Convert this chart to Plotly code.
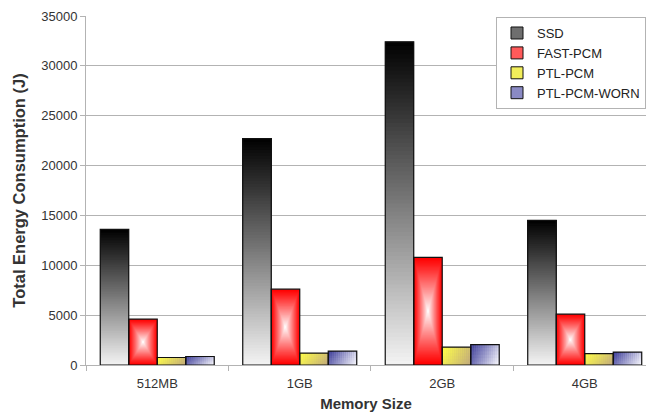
import plotly.graph_objects as go

# ---- data ----
categories = ["512MB", "1GB", "2GB", "4GB"]
ssd = [13600, 22700, 32400, 14500]
fast_pcm = [4600, 7600, 10800, 5100]
ptl_pcm = [750, 1200, 1800, 1150]
ptl_pcm_worn = [850, 1400, 2050, 1300]
series_names = ["SSD", "FAST-PCM", "PTL-PCM", "PTL-PCM-WORN"]

BAR_W = 0.2
OFFSETS = [-0.4, -0.2, 0.0, 0.2]
FONT = "Liberation Sans, Arial, sans-serif"


def hex_rgb(h):
    h = h.lstrip("#")
    return tuple(int(h[i:i + 2], 16) for i in (0, 2, 4))


def mix(c1, c2, t):
    a, b = hex_rgb(c1), hex_rgb(c2)
    r = [round(a[k] + (b[k] - a[k]) * t) for k in range(3)]
    return "rgb(%d,%d,%d)" % tuple(r)


def grid_gradient(values, off, nx, ny, color_fn):
    """Fill each bar with a grid of overlapping cells; later cells cover
    the upper-right part so every cell shows only its own colour."""
    xs, bases, ys, offs, widths, cols = [], [], [], [], [], []
    for cat, v in zip(categories, values):
        for i in range(nx):
            for j in range(ny):
                u = (i + 0.5) / nx
                h = (j + 0.5) / ny
                b = v * j / ny
                xs.append(cat)
                bases.append(b)
                ys.append(v - b)
                offs.append(off + BAR_W * i / nx)
                widths.append(BAR_W * (1 - i / nx))
                cols.append(color_fn(u, h))
    return go.Bar(x=xs, y=ys, base=bases, offset=offs, width=widths,
                  marker=dict(color=cols, line=dict(width=0)),
                  showlegend=False, hoverinfo="skip")


def rect_gradient(values, off, steps, outer, inner, gamma):
    """Concentric rectangles shading from the edge colour to the centre."""
    xs, bases, ys, offs, widths, cols = [], [], [], [], [], []
    for cat, v in zip(categories, values):
        for k in range(steps):
            t = k / steps
            xs.append(cat)
            bases.append(v / 2 * t)
            ys.append(v * (1 - t))
            offs.append(off + BAR_W / 2 * t)
            widths.append(BAR_W * (1 - t))
            cols.append(mix(outer, inner, t ** gamma))
    return go.Bar(x=xs, y=ys, base=bases, offset=offs, width=widths,
                  marker=dict(color=cols, line=dict(width=0)),
                  showlegend=False, hoverinfo="skip")


def diag(u, h):
    return min(1.0, max(0.0, 0.8 * u + 0.3 * (1 - h) - 0.05))


fig = go.Figure()

# SSD: black at the top fading to near white at the base
fig.add_trace(grid_gradient(ssd, OFFSETS[0], 1, 80,
                            lambda u, h: mix("#f4f4f4", "#000000", h)))
# FAST-PCM: red with a white centre
fig.add_trace(rect_gradient(fast_pcm, OFFSETS[1], 50, "#ff0000", "#ffffff", 1.1))
# PTL-PCM: yellow to khaki, mostly left to right
fig.add_trace(grid_gradient(ptl_pcm, OFFSETS[2], 14, 6,
                            lambda u, h: mix("#ffff4a", "#c4ad7a", diag(u, h))))
# PTL-PCM-WORN: slate blue to pale lavender, mostly left to right
fig.add_trace(grid_gradient(ptl_pcm_worn, OFFSETS[3], 14, 6,
                            lambda u, h: mix("#40409a", "#f2f2fa", diag(u, h))))

# bar outlines
for vals, off in zip([ssd, fast_pcm, ptl_pcm, ptl_pcm_worn], OFFSETS):
    fig.add_trace(go.Bar(x=categories, y=vals, offset=off, width=BAR_W,
                         marker=dict(color="rgba(0,0,0,0)",
                                     line=dict(color="#111111", width=1.2)),
                         showlegend=False, hoverinfo="skip"))

# legend entries
legend_colors = ["#6e6e6e", "#ff5a5a", "#f2ee5a", "#8a8ac4"]
for name, col in zip(series_names, legend_colors):
    fig.add_trace(go.Bar(x=[categories[0]], y=[None], name=name,
                         marker=dict(color=col, line=dict(color="#111111", width=1)),
                         hoverinfo="skip"))

fig.update_layout(
    width=646, height=412,
    margin=dict(l=86, r=0, t=16, b=47, autoexpand=False),
    barmode="overlay",
    paper_bgcolor="white", plot_bgcolor="white",
    font=dict(family=FONT, size=13, color="#333333"),
    showlegend=True,
    legend=dict(x=1.0, xanchor="right", y=0.997, yanchor="top",
                bgcolor="white", bordercolor="#b3b3b3", borderwidth=1,
                font=dict(family=FONT, size=13, color="#222222"),
                tracegroupgap=0),
)

fig.update_xaxes(
    type="category", categoryorder="array", categoryarray=categories,
    range=[-0.5, 3.43],
    showgrid=False, showline=True, linecolor="#b3b3b3", linewidth=1,
    ticks="outside", tickson="boundaries", ticklen=5, tickcolor="#b3b3b3",
    ticklabelstandoff=6,
    tickfont=dict(family=FONT, size=13, color="#333333"),
    title=dict(text="<b>Memory Size</b>", standoff=10,
               font=dict(family=FONT, size=15, color="#333333")),
)
fig.update_yaxes(
    range=[0, 35000], dtick=5000, tick0=0, tickformat="d",
    showgrid=True, gridcolor="#b3b3b3", gridwidth=1,
    showline=True, linecolor="#b3b3b3", linewidth=1, zeroline=False,
    ticks="outside", ticklen=5, tickcolor="#b3b3b3",
    tickfont=dict(family=FONT, size=13, color="#333333"),
    title=dict(text="<b>Total Energy Consumption (J)</b>", standoff=11,
               font=dict(family=FONT, size=16.5, color="#333333")),
)

fig.write_html("out.html")
